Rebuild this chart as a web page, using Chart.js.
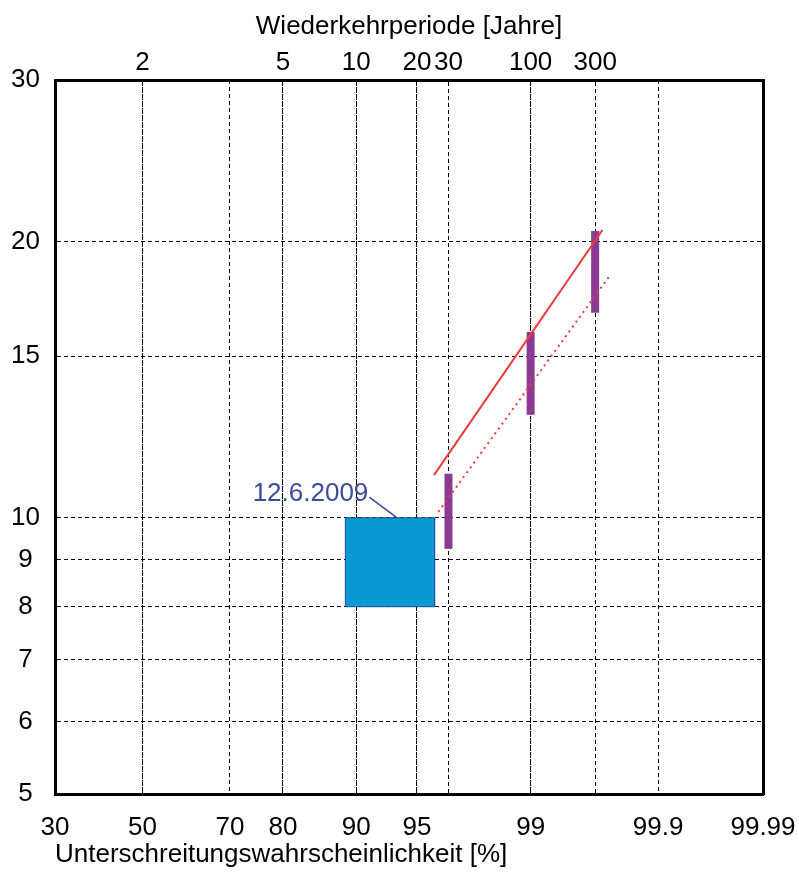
<!DOCTYPE html>
<html>
<head>
<meta charset="utf-8">
<script src="https://cdn.jsdelivr.net/npm/chart.js@4.4.1/dist/chart.umd.min.js"></script>
<style>
html, body { margin: 0; padding: 0; background: #fff; }
</style>
</head>
<body>
<canvas id="chart_a" width="799" height="874"></canvas>
<script>

// axis ticks
var probTicks = [30, 50, 70, 80, 90, 95, 99, 99.9, 99.99];   // Unterschreitungswahrscheinlichkeit [%]
var returnPeriods = [2, 5, 10, 20, 30, 100, 300];             // Wiederkehrperiode [Jahre]
var yTicks = [5, 6, 7, 8, 9, 10, 15, 20, 30];

// event box 12.6.2009
var eventProb = [88.8, 96.0];
var eventRange = [8, 10];
var eventLabel = '12.6.2009';
var leaderProb = [91.3, 93.65];
var leaderVal = [10.53, 10];

// confidence bars
var ciPeriods = [30, 100, 300];
var ciLow = [9.25, 12.95, 16.73];
var ciHigh = [11.17, 15.94, 20.54];

// fitted lines
var fitProb = [95.97, 99.708];
var fitVal = [11.13, 20.59];
var fit2Prob = [96.19, 99.747];
var fit2Val = [10.15, 18.39];

// inverse normal cdf (Acklam)
function normInv(p) {
    var a = [-3.969683028665376e+01, 2.209460984245205e+02, -2.759285104469687e+02, 1.383577518672690e+02, -3.066479806614716e+01, 2.506628277459239e+00];
    var b = [-5.447609879822406e+01, 1.615858368580409e+02, -1.556989798598866e+02, 6.680131188771972e+01, -1.328068155288572e+01];
    var c = [-7.784894002430293e-03, -3.223964580411365e-01, -2.400758277161838e+00, -2.549732539343734e+00, 4.374664141464968e+00, 2.938163982698783e+00];
    var d = [7.784695709041462e-03, 3.224671290700398e-01, 2.445134137142996e+00, 3.754408661907416e+00];
    var pl = 0.02425, q, r;
    if (p < pl) {
        q = Math.sqrt(-2 * Math.log(p));
        return (((((c[0]*q+c[1])*q+c[2])*q+c[3])*q+c[4])*q+c[5]) / ((((d[0]*q+d[1])*q+d[2])*q+d[3])*q+1);
    }
    if (p > 1 - pl) {
        q = Math.sqrt(-2 * Math.log(1 - p));
        return -(((((c[0]*q+c[1])*q+c[2])*q+c[3])*q+c[4])*q+c[5]) / ((((d[0]*q+d[1])*q+d[2])*q+d[3])*q+1);
    }
    q = p - 0.5; r = q * q;
    return (((((a[0]*r+a[1])*r+a[2])*r+a[3])*r+a[4])*r+a[5])*q / (((((b[0]*r+b[1])*r+b[2])*r+b[3])*r+b[4])*r+1);
}
function probX(pct) { return normInv(pct / 100); }
function periodX(T) { return normInv(1 - 1 / T); }

var xMin = probX(probTicks[0]);
var xMax = probX(probTicks[probTicks.length - 1]);

var fontFamily = '"Liberation Sans", Arial, sans-serif';
Chart.defaults.font.family = fontFamily;
Chart.defaults.font.size = 26;
Chart.defaults.color = '#000';

var gridOpts = { color: '#000', lineWidth: 1, drawTicks: false };
var borderOpts = { display: true, color: '#000', width: 3, dash: [4, 3] };

// datasets
var datasets = [];
datasets.push({
    data: fitProb.map(function(p, i){ return {x: probX(p), y: fitVal[i]}; }),
    borderColor: '#f03a3a', borderWidth: 2, pointRadius: 0, fill: false
});
datasets.push({
    data: fit2Prob.map(function(p, i){ return {x: probX(p), y: fit2Val[i]}; }),
    borderColor: '#f03a3a', borderWidth: 2, borderDash: [2, 4], pointRadius: 0, fill: false
});
ciPeriods.forEach(function(T, i){
    datasets.push({
        data: [{x: periodX(T), y: ciLow[i]}, {x: periodX(T), y: ciHigh[i]}],
        borderColor: '#8c3b94', borderWidth: 8, borderCapStyle: 'butt', pointRadius: 0, fill: false
    });
});
datasets.push({
    data: leaderProb.map(function(p, i){ return {x: probX(p), y: leaderVal[i]}; }),
    borderColor: '#3c4a9c', borderWidth: 1.5, pointRadius: 0, fill: false
});
datasets.push({
    data: [
        {x: probX(eventProb[0]), y: eventRange[1]},
        {x: probX(eventProb[1]), y: eventRange[1]},
        {x: probX(eventProb[1]), y: eventRange[0]},
        {x: probX(eventProb[0]), y: eventRange[0]},
        {x: probX(eventProb[0]), y: eventRange[1]}
    ],
    borderColor: '#1f4e9c', borderWidth: 1, backgroundColor: '#099ad6',
    pointRadius: 0, fill: 'shape', tension: 0
});

var labelPlugin = {
    id: 'eventLabel',
    afterDatasetsDraw: function(chart) {
        var ctx = chart.ctx;
        var px = chart.scales.x.getPixelForValue(probX(leaderProb[0]));
        var py = chart.scales.y.getPixelForValue(leaderVal[0]);
        ctx.save();
        ctx.font = '26px ' + fontFamily;
        ctx.fillStyle = '#3c4a9c';
        ctx.textAlign = 'right';
        ctx.textBaseline = 'alphabetic';
        ctx.fillText(eventLabel, px - 1, py + 4);
        ctx.restore();
    }
};

function fitHorizontal(scale) {
    scale.height = 80;
    scale.paddingLeft = 0;
    scale.paddingRight = 0;
}

var ctxL = document.getElementById('chart_a').getContext('2d');
var chart = new Chart(ctxL, {
    type: 'line',
    data: { datasets: datasets },
    plugins: [labelPlugin],
    options: {
        responsive: false,
        animation: false,
        events: [],
        layout: { padding: 0 },
        plugins: { legend: { display: false }, tooltip: { enabled: false } },
        scales: {
            x: {
                type: 'linear', position: 'bottom', min: xMin, max: xMax, z: 1,
                afterBuildTicks: function(scale){ scale.ticks = probTicks.map(function(p){ return {value: probX(p)}; }); },
                afterFit: fitHorizontal,
                ticks: { autoSkip: false, maxRotation: 0, padding: 18,
                    callback: function(v, i){ return String(probTicks[i]); } },
                grid: gridOpts, border: borderOpts,
                title: { display: true, text: 'Unterschreitungswahrscheinlichkeit [%]', align: 'start',
                    padding: { top: 0, bottom: 4 } }
            },
            x2: {
                type: 'linear', position: 'top', min: xMin, max: xMax, z: 1,
                afterBuildTicks: function(scale){ scale.ticks = returnPeriods.map(function(T){ return {value: periodX(T)}; }); },
                afterFit: fitHorizontal,
                ticks: { autoSkip: false, maxRotation: 0, padding: 2,
                    callback: function(v, i){ return String(returnPeriods[i]); } },
                grid: gridOpts, border: borderOpts,
                title: { display: true, text: 'Wiederkehrperiode [Jahre]',
                    padding: { top: 11, bottom: 0 } }
            },
            y: {
                type: 'logarithmic', position: 'left', min: 5, max: 30, z: 1,
                afterBuildTicks: function(scale){ scale.ticks = yTicks.map(function(v){ return {value: v}; }); },
                afterFit: function(scale){ scale.width = 55; },
                ticks: { autoSkip: false, crossAlign: 'center', padding: 15,
                    callback: function(v, i){ return String(yTicks[i]); } },
                grid: gridOpts, border: borderOpts
            },
            yR: {
                type: 'logarithmic', position: 'right', min: 5, max: 30, z: 1,
                afterFit: function(scale){ scale.width = 36; },
                ticks: { display: false },
                grid: { display: false }, border: borderOpts
            }
        }
    }
});
</script>
</body>
</html>
